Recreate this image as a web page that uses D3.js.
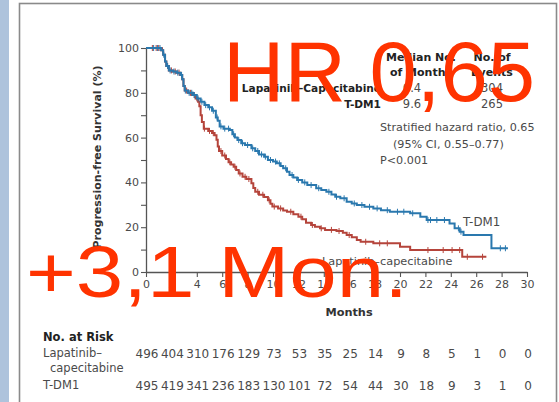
<!DOCTYPE html>
<html>
<head>
<meta charset="utf-8">
<script src="https://cdn.jsdelivr.net/npm/d3@7"></script>
<style>
  html, body { margin: 0; padding: 0; background: #fff; }
  svg { display: block; }
</style>
</head>
<body>
<svg id="chart" width="559" height="402"></svg>
<script>
// Kaplan–Meier progression-free survival, T-DM1 vs lapatinib–capecitabine.
// Step points: [month, survival %] — value holds until the next step.
const lapatinibSteps = [
  [0,100],[1.2,99],[1.35,97],[1.5,94],[1.6,92],[1.8,90],[2.1,89.5],[2.4,89],[2.7,88],
  [2.85,86],[2.95,83],[3.05,81],[3.3,80],[3.6,79],[3.9,77.5],[4.1,76],[4.2,74],[4.3,70],
  [4.4,67],[4.55,64],[4.9,63],[5.2,62],[5.4,61],[5.55,59],[5.65,56],[5.75,54],[6.0,52],
  [6.3,50.5],[6.5,49],[6.7,48],[6.9,47],[7.1,45.5],[7.3,44],[7.6,42.5],[7.9,41.5],
  [8.3,39.6],[8.45,37.5],[8.6,35.8],[8.9,34.5],[9.3,33.5],[9.6,32],[9.8,30.5],[9.95,29.2],
  [10.4,28.4],[10.8,27.5],[11.1,26.9],[11.6,25.8],[12.0,24.7],[12.3,23.5],[12.6,22],
  [13.0,21],[13.3,20.2],[13.7,19.5],[14.1,18.8],[15.0,18.3],[15.5,17.5],[15.8,16.5],
  [16.2,15.5],[16.6,14.3],[16.9,13.5],[17.9,12.8],[20.0,11.3],[20.8,9.8],[24.9,6.8]
];
const lapatinibEnd = 26.8;
const lapatinibCensor = [
  0.5,0.8,1.0,1.3,1.7,2.0,2.3,2.6,3.2,3.5,3.8,4.0,4.6,5.0,5.3,5.9,6.2,6.6,7.0,7.4,7.8,
  8.1,8.8,9.2,9.7,10.1,10.6,11.4,12.2,13.1,13.8,14.6,15.2,16.0,17.3,18.4,19.0,22.2,23.4,
  24.1,24.7,25.3,26.5
];

const tdm1Steps = [
  [0,100],[1.2,99],[1.35,97],[1.5,94],[1.6,92],[1.8,90],[2.1,89.5],[2.4,89],[2.7,88],
  [2.85,86],[2.95,83],[3.05,81],[3.3,80],[3.7,79],[4.0,77.5],[4.3,76],[4.6,74.5],[4.9,73.5],
  [5.2,72],[5.5,69],[5.65,67.5],[5.8,65],[6.1,64],[6.6,63.4],[6.8,61.5],[7.0,60],[7.2,58.9],
  [7.5,57.5],[7.8,56.7],[8.3,55.2],[8.6,54],[8.9,52.5],[9.3,51.5],[9.6,50],[10.0,49.3],
  [10.3,48.5],[10.6,47.3],[10.8,46.3],[11.1,44.8],[11.3,43.3],[11.6,42.2],[11.9,41.1],
  [12.3,40],[12.7,38.8],[13.4,37.4],[13.8,36.6],[14.2,35.8],[14.6,34.6],[14.9,33.6],
  [15.3,32.9],[15.8,31.4],[16.2,30.6],[16.6,29.9],[17.2,29.1],[17.9,28.4],[18.5,27.6],
  [19.2,26.9],[20.8,26.2],[21.6,24.7],[22.1,23.2],[23.9,21.7],[24.3,19.5],[24.7,18.0],
  [25.0,16.5],[27.2,10.6]
];
const tdm1End = 28.5;
const tdm1Censor = [
  0.6,0.9,1.1,1.4,1.7,1.9,2.2,2.5,2.8,3.1,3.4,3.6,3.8,4.1,4.4,4.7,5.0,5.3,5.6,5.9,6.2,
  6.5,6.9,7.3,7.6,8.0,8.4,8.8,9.1,9.4,9.8,10.2,10.5,11.0,11.5,12.0,12.5,13.0,13.6,14.4,
  15.0,15.6,16.4,17.0,17.6,18.2,19.0,19.8,20.3,21.0,22.2,22.4,22.9,23.5,24.6,24.8,27.9,28.3
];

// Numbers at risk every 2 months, 0–30
const riskMonths = [0,2,4,6,8,10,12,14,16,18,20,22,24,26,28,30];
const riskLapatinib = [496,404,310,176,129,73,53,35,25,14,9,8,5,1,0,0];
const riskTdm1 = [495,419,341,236,183,130,101,72,54,44,30,18,9,3,1,0];

const xTicks = [0,2,4,6,8,10,12,14,16,18,20,22,24,26,28,30];
const yTicks = [0,20,40,60,80,100];
const yMinorTicks = [10,30,50,70,90];

const legendRows = ["Lapatinib–Capecitabine", "T-DM1"];
const legendMedians = ["6.4", "9.6"];
const legendEvents = ["304", "265"];

const colorTdm1 = "#2a78ae";
const colorLap = "#b5443b";
const inkGray = "#4a4a4a";
const FONT = "'DejaVu Sans', sans-serif";

const svg = d3.select("#chart");

// page frame
svg.append("rect").attr("x", 0).attr("y", 0).attr("width", 9).attr("height", 402).attr("fill", "#aec3dc");
svg.append("rect").attr("x", 19.5).attr("y", 3.5).attr("width", 537).attr("height", 420)
  .attr("fill", "#fff").attr("stroke", "#8a8a8a").attr("stroke-width", 1.6);

const x = d3.scaleLinear().domain([0, 30]).range([146, 527]);
const y = d3.scaleLinear().domain([0, 100]).range([272, 48]);

// axes
const xAxis = svg.append("g").attr("transform", `translate(0,${y(0)})`)
  .call(d3.axisBottom(x).tickValues(xTicks).tickSize(5).tickSizeOuter(0).tickPadding(3));
const yAxis = svg.append("g").attr("transform", `translate(${x(0)},0)`)
  .call(d3.axisLeft(y).tickValues(yTicks).tickSize(5).tickSizeOuter(0).tickPadding(2));
svg.append("g").attr("transform", `translate(${x(0)},0)`)
  .call(d3.axisLeft(y).tickValues(yMinorTicks).tickSize(5).tickSizeOuter(0).tickFormat(""))
  .select(".domain").remove();

svg.selectAll(".domain").attr("stroke", "#555").attr("stroke-width", 1.3);
svg.selectAll(".tick line").attr("stroke", "#555").attr("stroke-width", 1.1);
svg.selectAll(".tick text").attr("fill", inkGray).style("font-family", FONT).style("font-size", "11px");

// axis titles
svg.append("text")
  .attr("transform", `translate(101,157) rotate(-90)`)
  .attr("text-anchor", "middle")
  .style("font-family", FONT).style("font-size", "11px").style("font-weight", "bold")
  .attr("fill", "#333").text("Progression-free Survival (%)");
svg.append("text").attr("x", 349).attr("y", 316).attr("text-anchor", "middle")
  .style("font-family", FONT).style("font-size", "11.3px").style("font-weight", "bold")
  .attr("fill", "#333").text("Months");

// survival curves
const line = d3.line().x(d => x(d[0])).y(d => y(d[1])).curve(d3.curveStepAfter);

function survAt(steps, t) {
  let s = steps[0][1];
  for (const [m, v] of steps) { if (m <= t) s = v; else break; }
  return s;
}

function drawCurve(steps, end, censor, color) {
  const pts = steps.concat([[end, steps[steps.length - 1][1]]]);
  svg.append("path").datum(pts).attr("d", line)
    .attr("fill", "none").attr("stroke", color).attr("stroke-width", 2);
  svg.append("g").selectAll("line").data(censor).join("line")
    .attr("x1", d => x(d)).attr("x2", d => x(d))
    .attr("y1", d => y(survAt(steps, d)) - 3).attr("y2", d => y(survAt(steps, d)) + 3)
    .attr("stroke", color).attr("stroke-width", 1);
}
drawCurve(lapatinibSteps, lapatinibEnd, lapatinibCensor, colorLap);
drawCurve(tdm1Steps, tdm1End, tdm1Censor, colorTdm1);

// curve labels
svg.append("text").attr("x", 463).attr("y", 226)
  .style("font-family", FONT).style("font-size", "11.8px").attr("fill", inkGray).text("T-DM1");
svg.append("text").attr("x", 322).attr("y", 265)
  .style("font-family", FONT).style("font-size", "11.3px").attr("fill", inkGray).text("Lapatinib–capecitabine");

// legend table
const lg = svg.append("g").style("font-family", FONT);
[["Median No.", 61], ["of Months", 76]].forEach(([t, yy]) =>
  lg.append("text").attr("x", 421).attr("y", yy).attr("text-anchor", "middle")
    .style("font-size", "11px").style("font-weight", "bold").attr("fill", "#222").text(t));
[["No. of", 61], ["Events", 76]].forEach(([t, yy]) =>
  lg.append("text").attr("x", 492).attr("y", yy).attr("text-anchor", "middle")
    .style("font-size", "11px").style("font-weight", "bold").attr("fill", "#222").text(t));
legendRows.forEach((r, i) => {
  const yy = 92 + i * 16;
  lg.append("text").attr("x", 381).attr("y", yy).attr("text-anchor", "end")
    .style("font-size", "10.6px").style("font-weight", "bold").attr("fill", "#222").text(r);
  lg.append("text").attr("x", 412).attr("y", yy).attr("text-anchor", "middle")
    .style("font-size", "11.5px").attr("fill", inkGray).text(legendMedians[i]);
  lg.append("text").attr("x", 492).attr("y", yy).attr("text-anchor", "middle")
    .style("font-size", "11.5px").attr("fill", inkGray).text(legendEvents[i]);
});
lg.append("text").attr("x", 380).attr("y", 131).style("font-size", "11.2px").attr("fill", inkGray)
  .text("Stratified hazard ratio, 0.65");
lg.append("text").attr("x", 393).attr("y", 148).style("font-size", "11.2px").attr("fill", inkGray)
  .text("(95% CI, 0.55–0.77)");
lg.append("text").attr("x", 380).attr("y", 164).style("font-size", "11.2px").attr("fill", inkGray)
  .text("P<0.001");

// numbers at risk
const rk = svg.append("g").style("font-family", FONT).attr("fill", "#333");
rk.append("text").attr("x", 43).attr("y", 341).style("font-size", "11.5px").style("font-weight", "bold")
  .attr("fill", "#222").text("No. at Risk");
rk.append("text").attr("x", 43).attr("y", 357).style("font-size", "11.5px").attr("fill", inkGray).text("Lapatinib–");
rk.append("text").attr("x", 50).attr("y", 372).style("font-size", "11.5px").attr("fill", inkGray).text("capecitabine");
rk.append("text").attr("x", 43).attr("y", 389).style("font-size", "11.5px").attr("fill", inkGray).text("T-DM1");
rk.selectAll("text.lap").data(riskMonths).join("text").attr("class", "lap")
  .attr("x", d => x(d) + 1).attr("y", 358).attr("text-anchor", "middle")
  .style("font-size", "12px").attr("fill", inkGray).text((d, i) => riskLapatinib[i]);
rk.selectAll("text.tdm").data(riskMonths).join("text").attr("class", "tdm")
  .attr("x", d => x(d) + 1).attr("y", 390).attr("text-anchor", "middle")
  .style("font-size", "12px").attr("fill", inkGray).text((d, i) => riskTdm1[i]);

// headline annotations
const annColor = "#ff3300";
svg.append("text").attr("x", 223).attr("y", 101)
  .attr("textLength", 312).attr("lengthAdjust", "spacingAndGlyphs")
  .style("font-family", "'Liberation Sans', Arial, sans-serif").style("font-size", "85px")
  .attr("fill", annColor).text("HR 0,65");
svg.append("text").attr("x", 26).attr("y", 297)
  .attr("textLength", 382).attr("lengthAdjust", "spacingAndGlyphs")
  .style("font-family", "'Liberation Sans', Arial, sans-serif").style("font-size", "72px")
  .attr("fill", annColor).text("+3,1 Mon.");
</script>
</body>
</html>
